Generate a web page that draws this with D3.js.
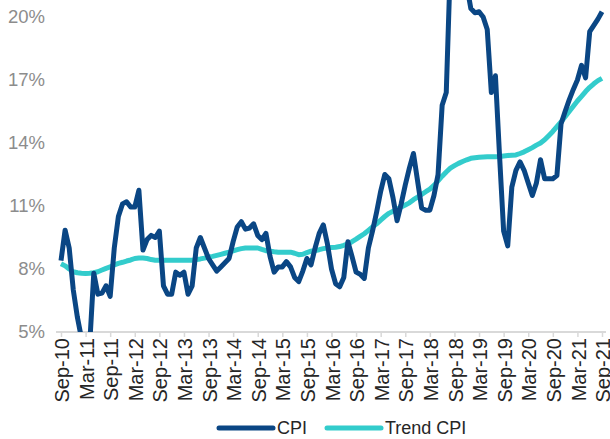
<!DOCTYPE html>
<html>
<head>
<meta charset="utf-8">
<script src="https://cdn.jsdelivr.net/npm/d3@7"></script>
<style>
  body { margin: 0; background: #fff; }
  text { font-family: Arial, "Liberation Sans", sans-serif; }
</style>
</head>
<body>
<script>

// monthly, Sep-10 .. Sep-21 (133 months)
const cpi = [
  8.4, 9.85, 9.0, 7.0, 5.7, 4.7, 4.0, 4.4, 7.8, 6.8, 6.85, 7.2,
  6.7, 9.0, 10.5, 11.1, 11.2, 10.95, 10.95, 11.75, 8.9, 9.4, 9.6, 9.5,
  9.8, 7.2, 6.8, 6.8, 7.85, 7.7, 7.85, 6.8, 7.2, 9.0, 9.5, 9.0,
  8.5, 8.2, 7.9, 8.1, 8.3, 8.5, 9.3, 10.0, 10.25, 9.9, 9.95, 10.15,
  9.6, 9.4, 9.7, 8.6, 7.85, 8.1, 8.1, 8.35, 8.1, 7.6, 7.4, 7.9,
  8.5, 8.2, 9.0, 9.7, 10.1, 9.2, 8.0, 7.3, 7.15, 7.6, 9.3, 8.6,
  7.85, 7.75, 7.55, 9.0, 9.8, 10.7, 11.7, 12.5, 12.3, 11.4, 10.3, 11.1,
  12.0, 12.8, 13.5, 12.2, 10.9, 10.8, 10.8, 11.5, 12.5, 15.8, 16.4, 22.5,
  25.5, 26.0, 23.0, 21.5, 20.4, 20.2, 20.25, 20.0, 19.4, 16.4, 17.2, 13.4,
  9.8, 9.1, 11.9, 12.7, 13.1, 12.7, 12.1, 11.5, 12.1, 13.2, 12.3, 12.3,
  12.3, 12.45, 14.9, 15.5, 16.05, 16.55, 17.0, 17.7, 17.1, 19.3, 19.6, 19.9,
  20.25
]

const trendCpi = [
  8.25, 8.15, 8.0, 7.87, 7.82, 7.8, 7.79, 7.8, 7.82, 7.87, 7.95, 8.03,
  8.1, 8.2, 8.27, 8.32, 8.38, 8.43, 8.5, 8.52, 8.52, 8.5, 8.45, 8.42,
  8.42, 8.42, 8.42, 8.42, 8.42, 8.42, 8.42, 8.42, 8.42, 8.45, 8.48, 8.52,
  8.57, 8.6, 8.65, 8.7, 8.75, 8.8, 8.86, 8.92, 8.97, 9.0, 9.0, 9.0,
  9.0, 8.93, 8.87, 8.85, 8.82, 8.8, 8.8, 8.8, 8.8, 8.75, 8.68, 8.7,
  8.78, 8.85, 8.88, 8.92, 8.97, 9.0, 9.02, 9.04, 9.07, 9.13, 9.2, 9.3,
  9.42, 9.55, 9.68, 9.84, 10.0, 10.15, 10.33, 10.5, 10.65, 10.75, 10.85, 10.95,
  11.05, 11.15, 11.3, 11.42, 11.55, 11.68, 11.8, 11.98, 12.2, 12.42, 12.62, 12.8,
  12.92, 13.03, 13.12, 13.2, 13.27, 13.3, 13.32, 13.33, 13.34, 13.35, 13.35, 13.36,
  13.38, 13.4, 13.42, 13.43, 13.5, 13.58, 13.68, 13.78, 13.9, 14.0, 14.15, 14.35,
  14.55, 14.78, 15.0, 15.25, 15.5, 15.75, 16.0, 16.22, 16.45, 16.65, 16.82, 16.97,
  17.08
]

// one label every 6 months
const tickLabels = ['Sep-10','Mar-11','Sep-11','Mar-12','Sep-12','Mar-13','Sep-13',
  'Mar-14','Sep-14','Mar-15','Sep-15','Mar-16','Sep-16','Mar-17','Sep-17',
  'Mar-18','Sep-18','Mar-19','Sep-19','Mar-20','Sep-20','Mar-21','Sep-21']

const yTicks = [5, 8, 11, 14, 17, 20]

const seriesNames = ['CPI', 'Trend CPI']
const colors = ['#0a4684', '#33cccc']

var svgWidth = 610
var svgHeight = 439

var svg = d3.select("body")
  .append("svg")
    .attr("width", svgWidth)
    .attr("height", svgHeight)

// scales
var xScale = d3.scaleLinear()
  .domain([0, cpi.length - 1])
  .range([61, 602])

var yScale = d3.scaleLinear()
  .domain([5, 20])
  .range([332, 17])

// clip only the bottom (top is cut by the picture edge)
svg.append("clipPath")
    .attr("id", "plotclip")
  .append("rect")
    .attr("x", 0)
    .attr("y", -100)
    .attr("width", svgWidth)
    .attr("height", 432)

// y axis, labels only
var yAxis = d3.axisLeft(yScale)
  .tickValues(yTicks)
  .tickSize(0)
  .tickPadding(0)
  .tickFormat(function(d){ return d + "%" })

var gy = svg.append("g")
  .attr("transform", "translate(45,0)")
  .call(yAxis)
gy.select(".domain").remove()
gy.selectAll("text")
  .attr("fill", "#8c8c8c")
  .style("font-size", "18.5px")

// x axis
var xAxis = d3.axisBottom(xScale)
  .tickValues(d3.range(0, cpi.length, 6))
  .tickSize(5)
  .tickSizeOuter(0)
  .tickFormat(function(d, i){ return tickLabels[i] })

var gx = svg.append("g")
  .attr("transform", "translate(0,332)")
  .call(xAxis)

gx.select(".domain")
  .attr("d", "M56,0H606")
  .attr("stroke", "#d9d9d9")
  .attr("stroke-width", 2)
gx.selectAll(".tick line")
  .attr("stroke", "#d9d9d9")
  .attr("stroke-width", 1.5)
gx.selectAll(".tick text")
  .attr("fill", "#262626")
  .style("font-size", "20px")
  .attr("text-anchor", "end")
  .attr("transform", "rotate(-90)")
  .attr("x", -6)
  .attr("y", 0)
  .attr("dy", "0.38em")

// lines
var line = d3.line()
  .x(function(d, i){ return xScale(i) })
  .y(function(d){ return yScale(d) })

var plot = svg.append("g").attr("clip-path", "url(#plotclip)")

plot.append("path")
  .datum(trendCpi)
  .attr("fill", "none")
  .attr("stroke", colors[1])
  .attr("stroke-width", 5)
  .attr("stroke-linejoin", "round")
  .attr("d", line)

plot.append("path")
  .datum(cpi)
  .attr("fill", "none")
  .attr("stroke", colors[0])
  .attr("stroke-width", 5)
  .attr("stroke-linejoin", "round")
  .attr("d", line)

// legend
var legendX = [219, 327]
var legend = svg.selectAll(".legend")
  .data(seriesNames)
  .enter()
  .append("g")
  .attr("class", "legend")
  .attr("transform", function(d, i){ return "translate(" + legendX[i] + ",428)" })

legend.append("line")
  .attr("x1", 0)
  .attr("x2", 54)
  .attr("stroke", function(d, i){ return colors[i] })
  .attr("stroke-width", 5)
  .attr("stroke-linecap", "round")

legend.append("text")
  .attr("x", 58)
  .attr("dy", "0.36em")
  .attr("fill", "#262626")
  .style("font-size", "18px")
  .text(function(d){ return d })

</script>
</body>
</html>
